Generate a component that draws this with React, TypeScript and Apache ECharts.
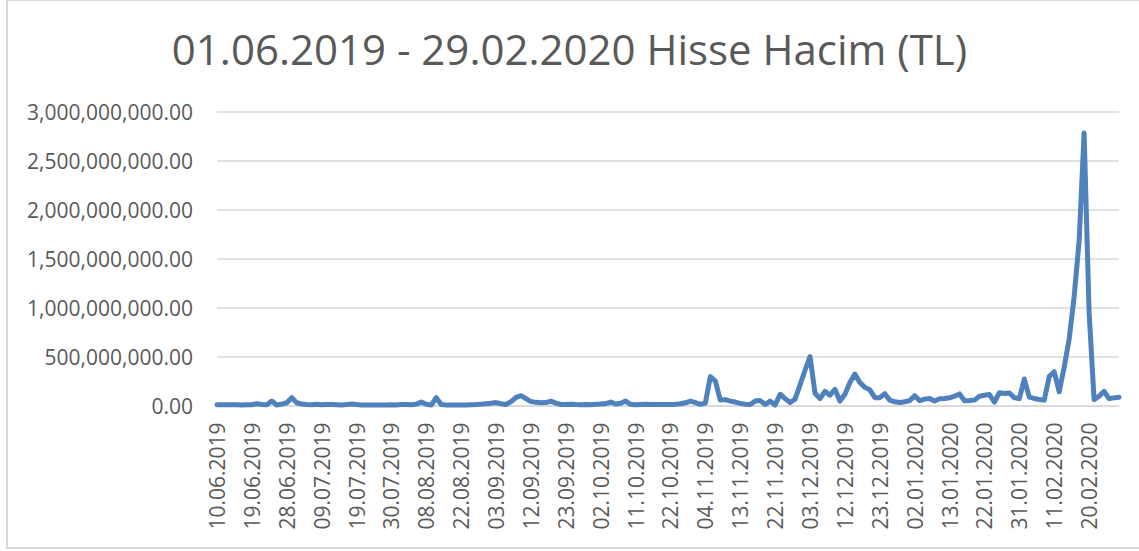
import { useEffect, useRef } from "react";
import * as echarts from "echarts";

const TITLE = "01.06.2019 - 29.02.2020 Hisse Hacim (TL)";

const dates = [
  "10.06.2019", "11.06.2019", "12.06.2019", "13.06.2019", "14.06.2019", "17.06.2019", "18.06.2019",
  "19.06.2019", "20.06.2019", "21.06.2019", "24.06.2019", "25.06.2019", "26.06.2019", "27.06.2019",
  "28.06.2019", "01.07.2019", "02.07.2019", "03.07.2019", "04.07.2019", "05.07.2019", "08.07.2019",
  "09.07.2019", "10.07.2019", "11.07.2019", "12.07.2019", "16.07.2019", "17.07.2019", "18.07.2019",
  "19.07.2019", "22.07.2019", "23.07.2019", "24.07.2019", "25.07.2019", "26.07.2019", "29.07.2019",
  "30.07.2019", "31.07.2019", "01.08.2019", "02.08.2019", "05.08.2019", "06.08.2019", "07.08.2019",
  "08.08.2019", "09.08.2019", "15.08.2019", "16.08.2019", "19.08.2019", "20.08.2019", "21.08.2019",
  "22.08.2019", "23.08.2019", "26.08.2019", "27.08.2019", "28.08.2019", "29.08.2019", "02.09.2019",
  "03.09.2019", "04.09.2019", "05.09.2019", "06.09.2019", "09.09.2019", "10.09.2019", "11.09.2019",
  "12.09.2019", "13.09.2019", "16.09.2019", "17.09.2019", "18.09.2019", "19.09.2019", "20.09.2019",
  "23.09.2019", "24.09.2019", "25.09.2019", "26.09.2019", "27.09.2019", "30.09.2019", "01.10.2019",
  "02.10.2019", "03.10.2019", "04.10.2019", "07.10.2019", "08.10.2019", "09.10.2019", "10.10.2019",
  "11.10.2019", "14.10.2019", "15.10.2019", "16.10.2019", "17.10.2019", "18.10.2019", "21.10.2019",
  "22.10.2019", "23.10.2019", "24.10.2019", "25.10.2019", "30.10.2019", "31.10.2019", "01.11.2019",
  "04.11.2019", "05.11.2019", "06.11.2019", "07.11.2019", "08.11.2019", "11.11.2019", "12.11.2019",
  "13.11.2019", "14.11.2019", "15.11.2019", "18.11.2019", "19.11.2019", "20.11.2019", "21.11.2019",
  "22.11.2019", "25.11.2019", "26.11.2019", "27.11.2019", "28.11.2019", "29.11.2019", "02.12.2019",
  "03.12.2019", "04.12.2019", "05.12.2019", "06.12.2019", "09.12.2019", "10.12.2019", "11.12.2019",
  "12.12.2019", "13.12.2019", "16.12.2019", "17.12.2019", "18.12.2019", "19.12.2019", "20.12.2019",
  "23.12.2019", "24.12.2019", "25.12.2019", "26.12.2019", "27.12.2019", "30.12.2019", "31.12.2019",
  "02.01.2020", "03.01.2020", "06.01.2020", "07.01.2020", "08.01.2020", "09.01.2020", "10.01.2020",
  "13.01.2020", "14.01.2020", "15.01.2020", "16.01.2020", "17.01.2020", "20.01.2020", "21.01.2020",
  "22.01.2020", "23.01.2020", "24.01.2020", "27.01.2020", "28.01.2020", "29.01.2020", "30.01.2020",
  "31.01.2020", "03.02.2020", "04.02.2020", "05.02.2020", "06.02.2020", "07.02.2020", "10.02.2020",
  "11.02.2020", "12.02.2020", "13.02.2020", "14.02.2020", "17.02.2020", "18.02.2020", "19.02.2020",
  "20.02.2020", "21.02.2020", "24.02.2020", "25.02.2020", "26.02.2020", "27.02.2020", "28.02.2020",
];

// Daily share volume, in million TL
const volumeMillionTL = [
  8, 7, 8, 7, 8, 6, 7,
  8, 18, 10, 8, 45, 6, 14,
  28, 80, 28, 15, 10, 8, 12,
  8, 10, 9, 8, 6, 9, 16,
  10, 6, 5, 6, 5, 6, 5,
  7, 6, 9, 10, 8, 14, 35,
  12, 5, 80, 10, 6, 5, 6,
  5, 6, 8, 10, 14, 18, 22,
  30, 18, 10, 40, 82, 100, 70,
  40, 32, 28, 30, 45, 25, 10,
  10, 12, 9, 8, 10, 8, 12,
  15, 20, 35, 15, 22, 45, 12,
  8, 10, 12, 10, 9, 11, 10,
  9, 12, 18, 28, 45, 30, 12,
  25, 295, 250, 55, 60, 45, 35,
  22, 12, 10, 45, 50, 10, 45,
  5, 115, 70, 30, 65, 210, 360,
  500, 125, 70, 145, 105, 165, 45,
  115, 235, 320, 235, 185, 160, 80,
  80, 120, 55, 38, 30, 38, 50,
  100, 50, 65, 72, 45, 68, 72,
  78, 95, 118, 48, 50, 55, 95,
  105, 112, 35, 130, 122, 128, 80,
  70, 270, 85, 72, 62, 55, 295,
  345, 140, 390, 680, 1110, 1680, 2780,
  950, 60, 95, 145, 70, 78, 85,
];

const Y_MIN = 0;
const Y_MAX = 3000000000;
const Y_STEP = 500000000;

const FONT = "Open Sans";
const TEXT_COLOR = "#595959";
const GRID_COLOR = "#d9d9d9";
const LINE_COLOR = "#4f81bd";

export default function App() {
  const ref = useRef<HTMLDivElement>(null);

  useEffect(() => {
    if (!ref.current) return;
    const chart = echarts.init(ref.current, null, { renderer: "svg" });
    chart.setOption({
      animation: false,
      backgroundColor: "#ffffff",
      title: {
        text: TITLE,
        left: "center",
        top: 22,
        textStyle: {
          fontFamily: FONT,
          fontSize: 42,
          fontWeight: "normal",
          color: TEXT_COLOR,
        },
      },
      grid: { left: 217, right: 20, top: 111.5, bottom: 145.5 },
      xAxis: {
        type: "category",
        data: dates,
        boundaryGap: false,
        axisLine: { lineStyle: { color: GRID_COLOR, width: 1.5 } },
        axisTick: { show: false },
        axisLabel: {
          rotate: 90,
          interval: 6,
          margin: 17,
          color: TEXT_COLOR,
          fontFamily: FONT,
          fontSize: 21,
        },
        splitLine: { show: false },
      },
      yAxis: {
        type: "value",
        min: Y_MIN,
        max: Y_MAX,
        interval: Y_STEP,
        axisLine: { show: false },
        axisTick: { show: false },
        axisLabel: {
          margin: 24,
          color: TEXT_COLOR,
          fontFamily: FONT,
          fontSize: 21,
          formatter: (v: number) =>
            v.toLocaleString("en-US", { minimumFractionDigits: 2, maximumFractionDigits: 2 }),
        },
        splitLine: { lineStyle: { color: GRID_COLOR, width: 1.5 } },
      },
      series: [
        {
          type: "line",
          data: volumeMillionTL.map((m) => m * 1000000),
          showSymbol: false,
          symbol: "none",
          lineStyle: { color: LINE_COLOR, width: 5, join: "round", cap: "round" },
          itemStyle: { color: LINE_COLOR },
        },
      ],
      graphic: [
        {
          type: "rect",
          silent: true,
          shape: { x: 7, y: 0, width: 1140, height: 548 },
          style: { fill: "none", stroke: GRID_COLOR, lineWidth: 2 },
        },
      ],
    });
    return () => chart.dispose();
  }, []);

  return (
    <div
      ref={ref}
      style={{ position: "fixed", left: 0, top: 0, width: 1139, height: 551 }}
    />
  );
}
